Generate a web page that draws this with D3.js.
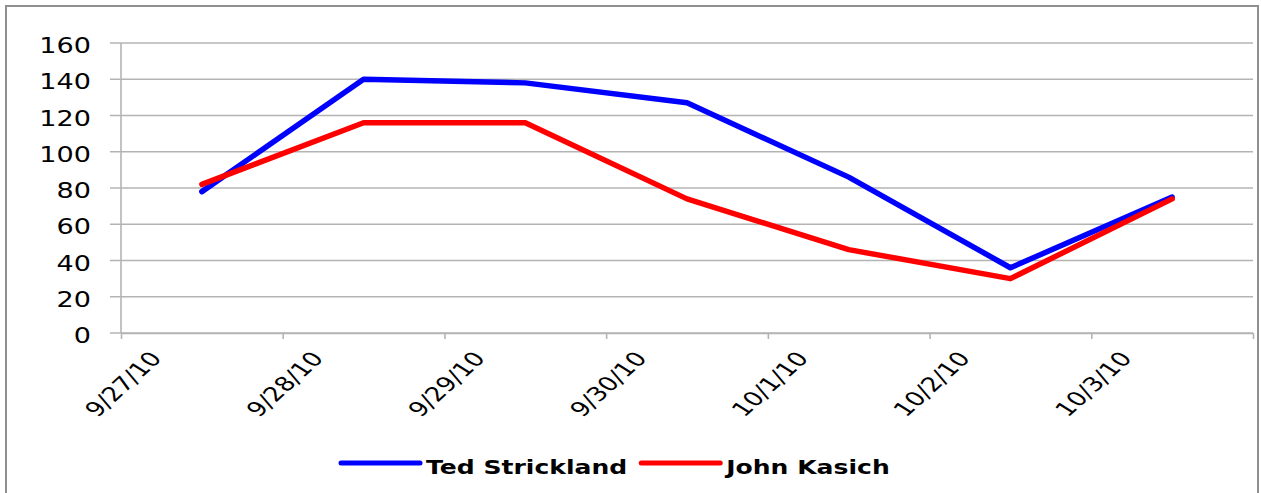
<!DOCTYPE html>
<html>
<head>
<meta charset="utf-8">
<script src="https://cdn.jsdelivr.net/npm/d3@7"></script>
<style>
  html, body { margin: 0; padding: 0; background: #fff; }
  svg { display: block; }
  text { font-family: "DejaVu Sans", Verdana, sans-serif; fill: #000; }
</style>
</head>
<body>
<svg id="chart" width="1261" height="493"></svg>
<script>
// Daily values, 9/27/10 through 10/3/10
const days = ["2010-09-27", "2010-09-28", "2010-09-29", "2010-09-30", "2010-10-01", "2010-10-02", "2010-10-03"];
const strickland = [78, 140, 138, 127, 86, 36, 75];
const kasich = [82, 116, 116, 74, 46, 30, 74];
const seriesNames = ["Ted Strickland", "John Kasich"];
const seriesColors = ["#0000ff", "#ff0000"];
const yTicks = [0, 20, 40, 60, 80, 100, 120, 140, 160];
const axisStart = "2010-09-27";
const axisEnd = "2010-10-04";

(function () {
  const parse = d3.timeParse("%Y-%m-%d");
  const fmt = d3.timeFormat("%-m/%-d/%y");
  const stretch = 1.32; // horizontal stretch applied to all text

  const svg = d3.select("#chart");

  // outer frame
  svg.append("rect")
    .attr("x", 6).attr("y", 6)
    .attr("width", 1252).attr("height", 500)
    .attr("fill", "#fff")
    .attr("stroke", "#8f8f8f").attr("stroke-width", 2);

  const plotLeft = 121, plotRight = 1253, plotTop = 43, plotBottom = 333;

  const x = d3.scaleTime()
    .domain([parse(axisStart), parse(axisEnd)])
    .range([plotLeft, plotRight]);
  const y = d3.scaleLinear().domain([0, 160]).range([plotBottom, plotTop]);

  // horizontal gridlines with left tick marks
  svg.append("g")
    .selectAll("line")
    .data(yTicks)
    .join("line")
    .attr("x1", plotLeft - 11).attr("x2", plotRight)
    .attr("y1", d => y(d)).attr("y2", d => y(d))
    .attr("stroke", "#b4b4b4").attr("stroke-width", 1.6);

  // y axis line
  svg.append("line")
    .attr("x1", plotLeft).attr("x2", plotLeft)
    .attr("y1", y(160)).attr("y2", y(0))
    .attr("stroke", "#b4b4b4").attr("stroke-width", 1.6);

  // y tick labels
  svg.append("g")
    .selectAll("text")
    .data(yTicks)
    .join("text")
    .attr("transform", d => `translate(${plotLeft - 30},${y(d) + 3}) scale(${stretch},1)`)
    .attr("text-anchor", "end")
    .attr("dy", "0.35em")
    .attr("font-size", 20.5)
    .text(d => d);

  // x axis with day ticks
  const xTicks = d3.timeDay.range(parse(axisStart), d3.timeDay.offset(parse(axisEnd), 1));
  const xAxis = svg.append("g")
    .attr("transform", `translate(0,${plotBottom})`)
    .call(d3.axisBottom(x).tickValues(xTicks).tickSize(6).tickSizeOuter(0).tickFormat(""));
  xAxis.select(".domain").attr("stroke", "#b4b4b4").attr("stroke-width", 1.6);
  xAxis.selectAll(".tick line").attr("stroke", "#b4b4b4").attr("stroke-width", 1.6);

  // rotated date labels (last boundary tick is unlabeled)
  svg.append("g")
    .selectAll("text")
    .data(xTicks.slice(0, -1))
    .join("text")
    .attr("transform", d => `translate(${x(d) + 2},${plotBottom + 51}) scale(${stretch},1) rotate(-50)`)
    .attr("text-anchor", "middle")
    .attr("dy", "0.35em")
    .attr("font-size", 20)
    .text(d => fmt(d));

  // series lines, each point centred within its day
  const mid = s => d3.timeHour.offset(parse(s), 12);
  const line = d3.line()
    .x(d => x(mid(d.day)))
    .y(d => y(d.v));

  const series = [strickland, kasich].map((vals, i) => ({
    name: seriesNames[i],
    color: seriesColors[i],
    pts: vals.map((v, j) => ({ day: days[j], v }))
  }));

  svg.append("g")
    .selectAll("path")
    .data(series)
    .join("path")
    .attr("d", d => line(d.pts))
    .attr("fill", "none")
    .attr("stroke", d => d.color)
    .attr("stroke-width", 5.5)
    .attr("stroke-linejoin", "round")
    .attr("stroke-linecap", "round");

  // legend
  const legend = svg.append("g").attr("transform", "translate(341,463)");
  let cursor = 0;
  series.forEach(s => {
    const g = legend.append("g").attr("transform", `translate(${cursor},0)`);
    g.append("line")
      .attr("x1", 0).attr("x2", 79)
      .attr("y1", 0).attr("y2", 0)
      .attr("stroke", s.color).attr("stroke-width", 5)
      .attr("stroke-linecap", "round");
    const t = g.append("text")
      .attr("transform", `translate(85,10.5) scale(${stretch},1)`)
      .attr("font-size", 19)
      .attr("font-weight", "bold")
      .text(s.name);
    cursor += 85 + t.node().getComputedTextLength() * stretch + 14;
  });
})();
</script>
</body>
</html>
